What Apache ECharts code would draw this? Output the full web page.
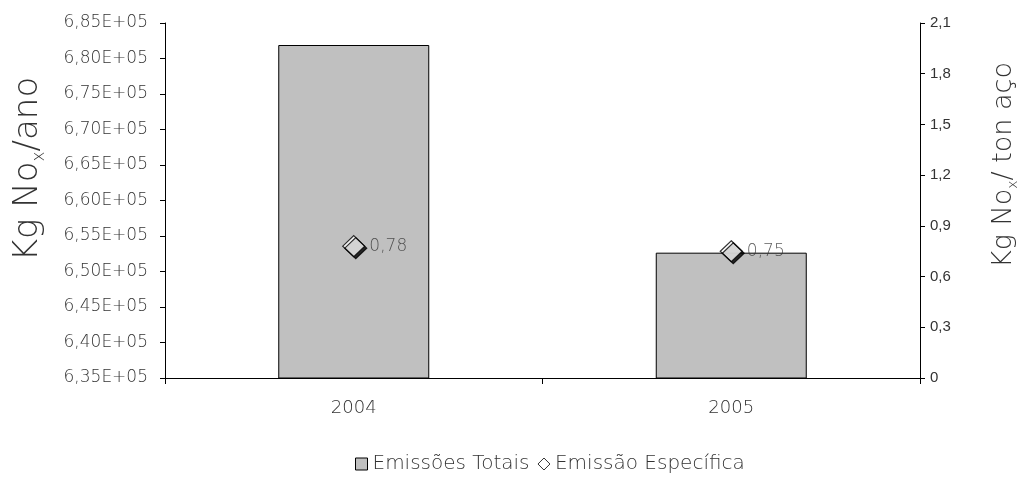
<!DOCTYPE html>
<html><head><meta charset="utf-8">
<script src="https://cdn.jsdelivr.net/npm/echarts@6/dist/echarts.min.js"></script>
<style>html,body{margin:0;padding:0;background:#fff}#c{width:1019px;height:481px}</style>
</head><body><div id="c"></div>
<script>
const categories = ['2004', '2005'];
const totalEmissions = [681900, 652650];
const specificEmission = [0.78, 0.75];
const leftTicks = { min: 635000, max: 685000, interval: 5000 };
const rightTicks = { min: 0, max: 2.1, interval: 0.3 };
const leftTitle = ['Kg No', 'x', '/ano'];
const rightTitle = ['Kg No', 'x', '/ ton aço'];

const font = '"DejaVu Sans", sans-serif';
function titleGraphic(parts, x, y, size) {
  return {
    type: 'text', x: x, y: y, rotation: Math.PI / 2,
    style: {
      text: '{a|' + parts[0] + '}{s|' + parts[1] + '}{a|' + parts[2] + '}',
      align: 'center', verticalAlign: 'middle',
      rich: {
        a: { fontFamily: font, fontWeight: 200, fontSize: size, fill: '#333', lineHeight: size * 1.2 },
        s: { fontFamily: font, fontWeight: 200, fontSize: Math.round(size * 0.5), fill: '#333',
             lineHeight: size * 1.2, verticalAlign: 'bottom', padding: [size * 0.35, 0, 0, 0] }
      }
    }
  };
}
const chart = echarts.init(document.getElementById('c'), null, { renderer: 'canvas' });
chart.setOption({
  animation: false,
  backgroundColor: '#fff',
  grid: { left: 165, right: 99, top: 23, bottom: 103, containLabel: false },
  graphic: [
    titleGraphic(leftTitle, 28, 169, 34),
    titleGraphic(rightTitle, 1004, 165, 27)
  ],
  legend: {
    bottom: 2, left: 350, itemGap: 8, itemWidth: 12, itemHeight: 12,
    textStyle: { fontFamily: font, fontWeight: 200, fontSize: 20, color: '#333' },
    data: [
      { name: 'Emissões Totais', icon: 'rect', itemStyle: { color: '#c0c0c0', borderColor: '#000', borderWidth: 1 } },
      { name: 'Emissão Específica', icon: 'diamond', itemStyle: { color: '#fff', borderColor: '#000', borderWidth: 1 } }
    ]
  },
  xAxis: {
    type: 'category', data: categories, boundaryGap: true,
    axisLine: { lineStyle: { color: '#000', width: 1 } },
    axisTick: { show: true, length: 6, alignWithLabel: false, lineStyle: { color: '#000' } },
    axisLabel: { margin: 21, fontFamily: font, fontWeight: 200, fontSize: 18, color: '#333' }
  },
  yAxis: [
    {
      type: 'value', min: leftTicks.min, max: leftTicks.max, interval: leftTicks.interval,
      axisLine: { show: true, lineStyle: { color: '#000' } },
      axisTick: { show: true, length: 5, lineStyle: { color: '#000' } },
      splitLine: { show: false },
      axisLabel: {
        margin: 17, fontFamily: font, fontWeight: 200, fontSize: 17, color: '#333',
        formatter: v => (v / 1e5).toFixed(2).replace('.', ',') + 'E+05'
      }
    },
    {
      type: 'value', min: rightTicks.min, max: rightTicks.max, interval: rightTicks.interval,
      axisLine: { show: true, lineStyle: { color: '#000' } },
      axisTick: { show: true, length: 5, lineStyle: { color: '#000' } },
      splitLine: { show: false },
      axisLabel: {
        margin: 10, fontFamily: '"Liberation Sans", Arial, sans-serif', fontSize: 15, color: '#333',
        formatter: v => (Math.round(v * 10) / 10).toString().replace('.', ',')
      }
    }
  ],
  series: [
    {
      name: 'Emissões Totais', type: 'bar', data: totalEmissions, yAxisIndex: 0,
      barWidth: '40%', clip: true,
      itemStyle: { color: '#c0c0c0', borderColor: '#000', borderWidth: 1 }
    },
    {
      name: 'Emissão Específica', type: 'scatter', data: specificEmission, yAxisIndex: 1,
      symbol: 'diamond', symbolSize: [22, 21],
      itemStyle: { color: '#fff', borderColor: '#000', borderWidth: 1.2,
        shadowColor: '#000', shadowBlur: 0, shadowOffsetX: 2, shadowOffsetY: 2 },
      label: {
        show: true, position: 'right', distance: 4,
        fontFamily: font, fontWeight: 200, fontSize: 17, color: '#333',
        formatter: p => p.value.toFixed(2).replace('.', ',')
      },
      z: 5
    }
  ]
});
</script></body></html>
